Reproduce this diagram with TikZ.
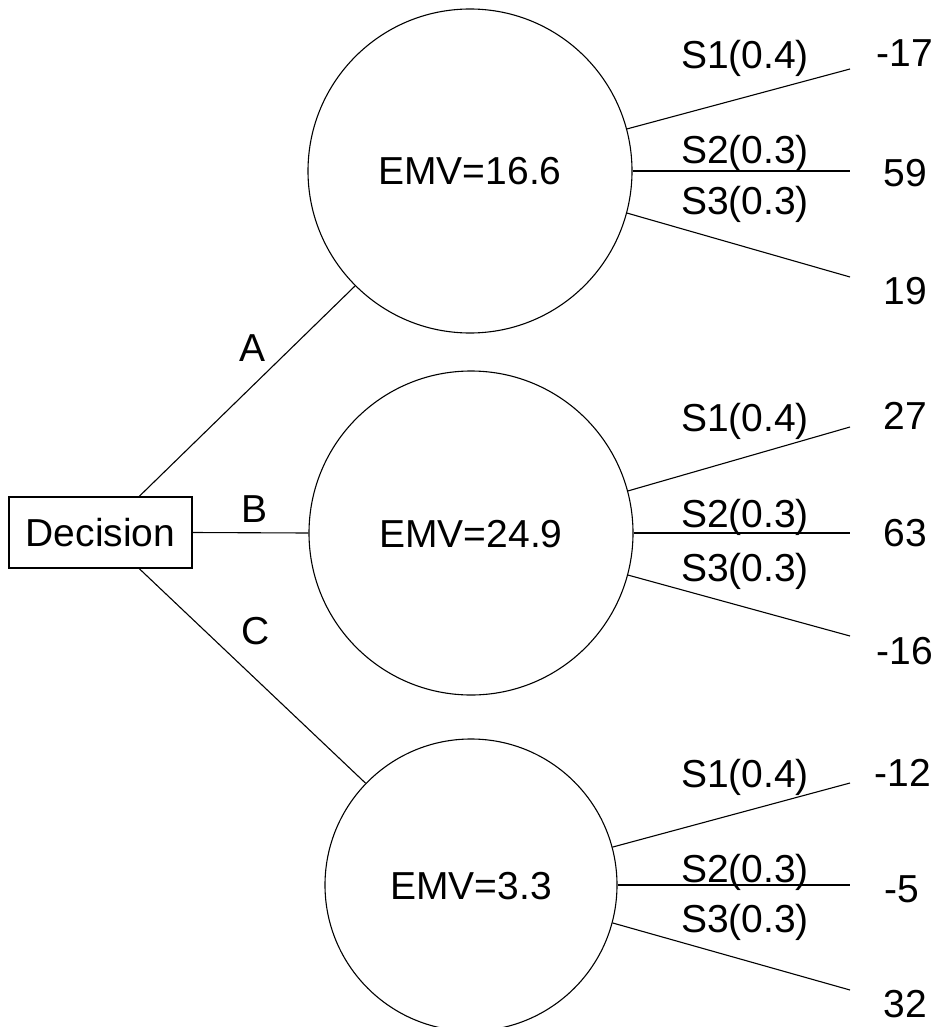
\documentclass[tikz,border=0pt]{standalone}
\usepackage{fontspec}
\setmainfont{Liberation Sans}

\tikzset{
	lbl/.style = {inner sep = 0pt, text height = 28pt, text depth = 0pt, font = \fontsize{39}{45}\selectfont},
	choice/.style = {lbl, draw, rectangle, minimum width = 183pt, minimum height = 71pt},
	chance/.style = {lbl, draw, circle}
}

\begin{document}
\begin{tikzpicture}[x = 1pt, y = -1pt, line width = 1.1pt]
		\useasboundingbox (0,0) rectangle (938,1027);
		
		\node (D) at (100.5,532.5) [choice] {Decision};
		\node (E1) at (470,171) [chance, minimum size = 324pt] {EMV=16.6};
		\node (E2) at (471,533) [chance, minimum size = 324pt] {EMV=24.9};
		\node (E3) at (471,885) [chance, minimum size = 292pt] {EMV=3.3};
		
		\draw (D.43) -- (E1.225);
		\draw (D.east) -- (E2.west);
		\draw (D.-43) -- (E3.136);
		\node (A) at (253,347) [lbl] {A};
		\node (B) at (255,508) [lbl] {B};
		\node (C) at (256,630) [lbl] {C};
		
		\coordinate (e11) at (850,69);
		\coordinate (e12) at (850,171);
		\coordinate (e13) at (850,277);
		\draw (E1.15) -- (e11);
		\draw (E1.east) -- (e12);
		\draw (E1.-15) -- (e13);
		\node (p11) at (745,55) [lbl] {S1(0.4)};
		\node (p12) at (745,150) [lbl] {S2(0.3)};
		\node (p13) at (745,200) [lbl] {S3(0.3)};
		\node (v11) at (905,53) [lbl] {-17};
		\node (v12) at (905,172) [lbl] {59};
		\node (v13) at (905,290) [lbl] {19};
		
		\coordinate (e21) at (850,427);
		\coordinate (e22) at (850,533);
		\coordinate (e23) at (850,636);
		\draw (E2.15) -- (e21);
		\draw (E2.east) -- (e22);
		\draw (E2.-15) -- (e23);
		\node (p21) at (745,417) [lbl] {S1(0.4)};
		\node (p22) at (745,513) [lbl] {S2(0.3)};
		\node (p23) at (745,567) [lbl] {S3(0.3)};
		\node (v21) at (905,415) [lbl] {27};
		\node (v22) at (905,532) [lbl] {63};
		\node (v23) at (905,650) [lbl] {-16};
		
		\coordinate (e31) at (850,783);
		\coordinate (e32) at (850,885);
		\coordinate (e33) at (850,990);
		\draw (E3.15) -- (e31);
		\draw (E3.east) -- (e32);
		\draw (E3.-15) -- (e33);
		\node (p31) at (745,773) [lbl] {S1(0.4)};
		\node (p32) at (745,868) [lbl] {S2(0.3)};
		\node (p33) at (745,918) [lbl] {S3(0.3)};
		\node (v31) at (903,772) [lbl] {-12};
		\node (v32) at (902,888) [lbl] {-5};
		\node (v33) at (905,1003) [lbl] {32};
\end{tikzpicture}
\end{document}
